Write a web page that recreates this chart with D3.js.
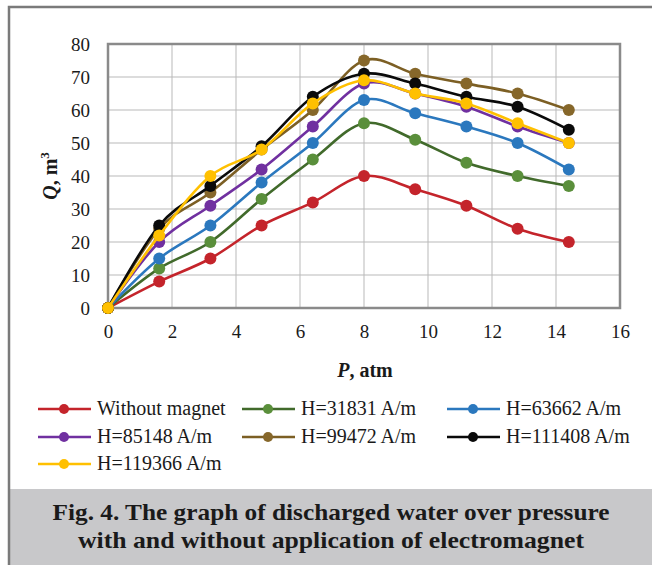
<!DOCTYPE html>
<html>
<head>
<meta charset="utf-8">
<script src="https://cdn.jsdelivr.net/npm/d3@7"></script>
<style>
  body { margin: 0; background: #fff; }
  svg text { font-family: "Liberation Serif", "Times New Roman", serif; fill: #1a1a1a; }
</style>
</head>
<body>
<svg id="chart" width="652" height="565"></svg>
<script>
// pressure, atm
var pressure = [0, 1.6, 3.2, 4.8, 6.4, 8, 9.6, 11.2, 12.8, 14.4];
var seriesNames = ["Without magnet", "H=31831 A/m", "H=63662 A/m", "H=85148 A/m",
                   "H=99472 A/m", "H=111408 A/m", "H=119366 A/m"];
var noMagnet = [0, 8, 15, 25, 32, 40, 36, 31, 24, 20];
var h31831  = [0, 12, 20, 33, 45, 56, 51, 44, 40, 37];
var h63662  = [0, 15, 25, 38, 50, 63, 59, 55, 50, 42];
var h85148  = [0, 20, 31, 42, 55, 68, 65, 61, 55, 50];
var h99472  = [0, 24, 35, 48, 60, 75, 71, 68, 65, 60];
var h111408 = [0, 25, 37, 49, 64, 71, 68, 64, 61, 54];
var h119366 = [0, 22, 40, 48, 62, 69, 65, 62, 56, 50];
var xTicks = [0, 2, 4, 6, 8, 10, 12, 14, 16];
var yTicks = [0, 10, 20, 30, 40, 50, 60, 70, 80];

var allValues = [noMagnet, h31831, h63662, h85148, h99472, h111408, h119366];
var lineColors = ["#c4242b", "#416a2b", "#2b78be", "#7030a0", "#7c5f24", "#0a0a0a", "#ffc000"];
var dotColors  = ["#c4242b", "#5a8f3b", "#2b78be", "#7030a0", "#86672a", "#0a0a0a", "#ffc000"];

var svg = d3.select("#chart");

// outer frame + caption box
svg.append("rect").attr("x", 9).attr("y", 489).attr("width", 645).attr("height", 80)
  .attr("fill", "#c8c8ca");
svg.append("path").attr("d", "M9,570 V7 H652")
  .attr("fill", "none").attr("stroke", "#7a7a7a").attr("stroke-width", 2.5);

var margin = {top: 44, left: 108},
    width = 512, height = 264;
var g = svg.append("g").attr("transform", "translate(" + margin.left + "," + margin.top + ")");

var x = d3.scaleLinear().domain([0, 16]).range([0, width]);
var y = d3.scaleLinear().domain([0, 80]).range([height, 0]);

// grid
g.append("g").selectAll("line").data(xTicks.slice(1, -1)).join("line")
  .attr("x1", d => x(d)).attr("x2", d => x(d)).attr("y1", 0).attr("y2", height)
  .attr("stroke", "#b9b9b9").attr("stroke-width", 1);
g.append("g").selectAll("line").data(yTicks.slice(1, -1)).join("line")
  .attr("y1", d => y(d)).attr("y2", d => y(d)).attr("x1", 0).attr("x2", width)
  .attr("stroke", "#b9b9b9").attr("stroke-width", 1);
g.append("rect").attr("width", width).attr("height", height)
  .attr("fill", "none").attr("stroke", "#8a8a8a").attr("stroke-width", 2.5);

// axes (labels only)
var xAxis = g.append("g").attr("transform", "translate(0," + height + ")")
  .call(d3.axisBottom(x).tickValues(xTicks).tickSize(0).tickPadding(17));
var yAxis = g.append("g")
  .call(d3.axisLeft(y).tickValues(yTicks).tickSize(0).tickPadding(18));
[xAxis, yAxis].forEach(function(a) {
  a.attr("font-family", null).attr("font-size", null);
  a.select(".domain").remove();
  a.selectAll("text").style("font-family", "'Liberation Serif', serif")
    .style("font-size", "19px").attr("fill", "#1a1a1a");
});

// axis titles
var yt = svg.append("text").attr("transform", "translate(57,176) rotate(-90)")
  .attr("text-anchor", "middle").attr("font-size", 20).attr("font-weight", "bold");
yt.append("tspan").attr("font-style", "italic").text("Q");
yt.append("tspan").text(", m");
yt.append("tspan").attr("font-size", 13).attr("dy", -8).text("3");

var xt = svg.append("text").attr("x", 365).attr("y", 377)
  .attr("text-anchor", "middle").attr("font-size", 20).attr("font-weight", "bold");
xt.append("tspan").attr("font-style", "italic").text("P");
xt.append("tspan").text(", atm");

// series
var line = d3.line()
  .x((d, i) => x(pressure[i]))
  .y(d => y(d))
  .curve(d3.curveCardinal.tension(0));

allValues.forEach(function(vals, k) {
  var s = g.append("g");
  s.append("path").datum(vals).attr("d", line)
    .attr("fill", "none").attr("stroke", lineColors[k]).attr("stroke-width", 2.6);
  s.selectAll("circle").data(vals).join("circle")
    .attr("cx", (d, i) => x(pressure[i])).attr("cy", d => y(d)).attr("r", 6)
    .attr("fill", dotColors[k]);
});

// legend
var legX = [38, 242, 447], legY = [409, 437, 464];
seriesNames.forEach(function(name, k) {
  var lx = legX[k % 3], ly = legY[Math.floor(k / 3)];
  var lg = svg.append("g").attr("transform", "translate(" + lx + "," + ly + ")");
  lg.append("line").attr("x1", 0).attr("x2", 53).attr("stroke", lineColors[k]).attr("stroke-width", 2.6);
  lg.append("circle").attr("cx", 26).attr("r", 5).attr("fill", dotColors[k]);
  lg.append("text").attr("x", 59).attr("y", 6).attr("font-size", 20).text(name);
});

// caption
var caption = ["Fig. 4. The graph of discharged water over pressure",
               "with and without application of electromagnet"];
var capWidth = [557, 506];
caption.forEach(function(t, i) {
  svg.append("text").attr("x", 331).attr("y", 520 + i * 28).attr("text-anchor", "middle")
    .attr("font-size", 24).attr("font-weight", "bold").attr("fill", "#2a2a2a")
    .attr("textLength", capWidth[i]).attr("lengthAdjust", "spacingAndGlyphs")
    .text(t);
});
</script>
</body>
</html>
